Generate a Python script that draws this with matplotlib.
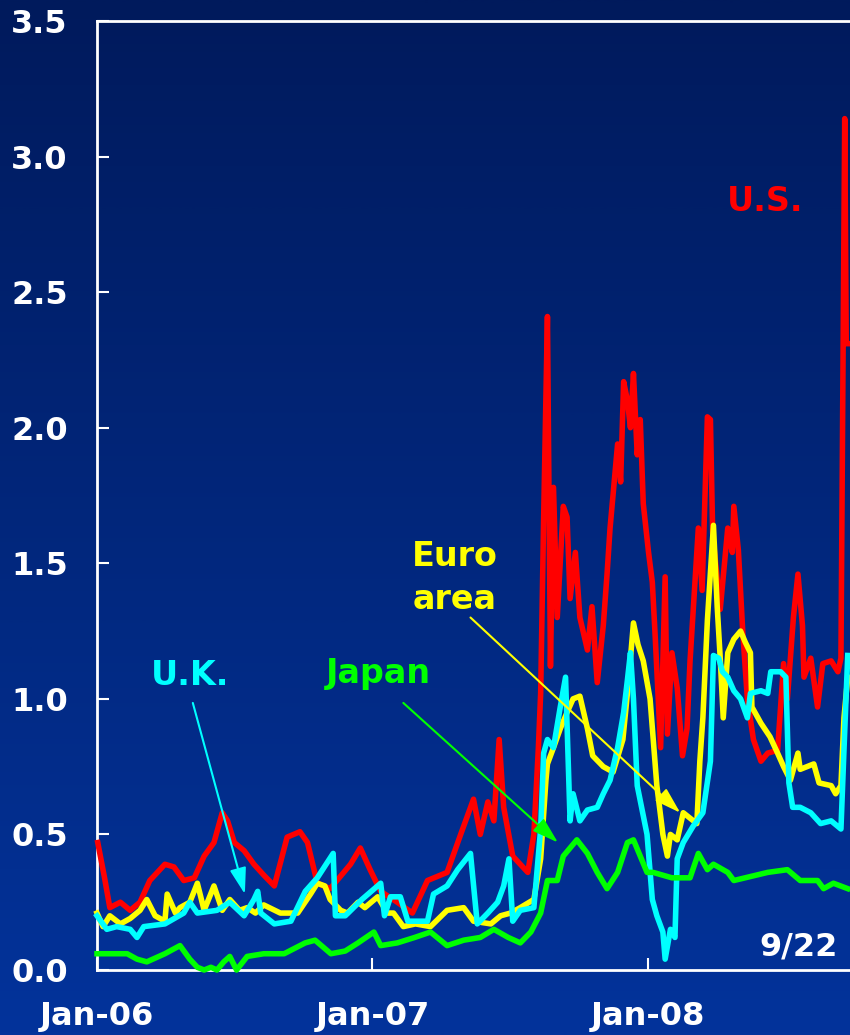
import numpy as np
import pandas as pd
import matplotlib
matplotlib.use("Agg")
import matplotlib.pyplot as plt
import matplotlib.dates as mdates
from matplotlib.colors import LinearSegmentedColormap

# ── 3-month Libor-OIS spreads (percentage points) ────────────────────────────
us_dates = [
    "2006-01-02", "2006-01-11", "2006-01-18", "2006-02-01", "2006-02-14", "2006-02-27",
    "2006-03-12", "2006-04-01", "2006-04-13", "2006-04-26", "2006-05-10", "2006-05-23",
    "2006-06-05", "2006-06-16", "2006-06-23", "2006-07-02", "2006-07-15", "2006-07-28",
    "2006-08-10", "2006-08-24", "2006-09-10", "2006-09-27", "2006-10-07", "2006-10-20",
    "2006-11-06", "2006-12-03", "2006-12-16", "2006-12-29", "2007-01-12", "2007-02-03",
    "2007-02-23", "2007-03-05", "2007-03-15", "2007-04-10", "2007-04-28", "2007-05-15",
    "2007-05-24", "2007-06-03", "2007-06-11", "2007-06-18", "2007-06-24", "2007-07-06",
    "2007-07-26", "2007-08-03", "2007-08-09", "2007-08-12", "2007-08-16", "2007-08-21",
    "2007-08-25", "2007-08-29", "2007-09-03", "2007-09-11", "2007-09-16", "2007-09-20",
    "2007-09-27", "2007-10-03", "2007-10-13", "2007-10-19", "2007-10-26", "2007-11-03",
    "2007-11-08", "2007-11-12", "2007-11-22", "2007-11-26", "2007-11-30", "2007-12-05",
    "2007-12-09", "2007-12-13", "2007-12-18", "2007-12-22", "2007-12-26", "2008-01-02",
    "2008-01-07", "2008-01-11", "2008-01-18", "2008-01-24", "2008-01-27", "2008-02-02",
    "2008-02-09", "2008-02-16", "2008-02-22", "2008-02-26", "2008-03-08", "2008-03-13",
    "2008-03-20", "2008-03-24", "2008-03-27", "2008-04-06", "2008-04-16", "2008-04-22",
    "2008-04-24", "2008-04-30", "2008-05-06", "2008-05-12", "2008-05-20", "2008-05-30",
    "2008-06-08", "2008-06-21", "2008-06-29", "2008-07-04", "2008-07-12", "2008-07-18",
    "2008-07-24", "2008-07-26", "2008-08-04", "2008-08-13", "2008-08-20", "2008-08-31",
    "2008-09-09", "2008-09-13", "2008-09-18", "2008-09-20", "2008-09-22",
]
us_vals = [
    0.47, 0.34, 0.23, 0.25, 0.22, 0.25,
    0.33, 0.39, 0.38, 0.33, 0.34, 0.42,
    0.47, 0.58, 0.55, 0.47, 0.44, 0.39,
    0.35, 0.31, 0.49, 0.51, 0.47, 0.32,
    0.30, 0.39, 0.45, 0.37, 0.29, 0.25,
    0.21, 0.27, 0.33, 0.36, 0.50, 0.63,
    0.50, 0.62, 0.55, 0.85, 0.60, 0.42,
    0.36, 0.50, 0.82, 1.02, 1.67, 2.41,
    1.12, 1.78, 1.30, 1.71, 1.67, 1.37,
    1.54, 1.30, 1.18, 1.34, 1.06, 1.27,
    1.46, 1.63, 1.94, 1.80, 2.17, 2.10,
    2.00, 2.20, 1.90, 2.03, 1.72, 1.54,
    1.43, 1.22, 0.82, 1.45, 0.87, 1.17,
    1.04, 0.79, 0.89, 1.14, 1.63, 1.40,
    2.04, 2.03, 1.61, 1.33, 1.63, 1.54,
    1.71, 1.55, 1.24, 1.00, 0.85, 0.77,
    0.80, 0.81, 1.13, 1.00, 1.30, 1.46,
    1.27, 1.08, 1.15, 0.97, 1.13, 1.14,
    1.10, 1.15, 3.14, 2.31, 2.31,
]

euro_dates = [
    "2006-01-01", "2006-01-09", "2006-01-18", "2006-02-01", "2006-02-14", "2006-02-27",
    "2006-03-08", "2006-03-19", "2006-04-01", "2006-04-04", "2006-04-15", "2006-04-21",
    "2006-05-04", "2006-05-14", "2006-05-23", "2006-06-05", "2006-06-16", "2006-06-26",
    "2006-07-09", "2006-07-19", "2006-07-30", "2006-08-10", "2006-09-01", "2006-09-24",
    "2006-10-11", "2006-10-20", "2006-10-30", "2006-11-06", "2006-11-20", "2006-11-29",
    "2006-12-13", "2006-12-22", "2007-01-08", "2007-01-21", "2007-01-29", "2007-02-11",
    "2007-02-27", "2007-03-19", "2007-04-10", "2007-05-02", "2007-05-15", "2007-06-07",
    "2007-06-20", "2007-07-03", "2007-07-16", "2007-08-03", "2007-08-12", "2007-08-19",
    "2007-08-21", "2007-08-29", "2007-09-07", "2007-09-16", "2007-09-24", "2007-10-03",
    "2007-10-13", "2007-10-20", "2007-11-03", "2007-11-16", "2007-11-29", "2007-12-06",
    "2007-12-13", "2007-12-19", "2007-12-26", "2008-01-04", "2008-01-13", "2008-01-21",
    "2008-01-27", "2008-01-31", "2008-02-09", "2008-02-17", "2008-02-26", "2008-03-06",
    "2008-03-10", "2008-03-14", "2008-03-20", "2008-03-28", "2008-04-02", "2008-04-06",
    "2008-04-10", "2008-04-16", "2008-04-24", "2008-05-03", "2008-05-09", "2008-05-16",
    "2008-05-18", "2008-05-30", "2008-06-11", "2008-06-21", "2008-06-29", "2008-07-08",
    "2008-07-18", "2008-07-21", "2008-08-08", "2008-08-15", "2008-08-31", "2008-09-06",
    "2008-09-13", "2008-09-17", "2008-09-22",
]
euro_vals = [
    0.21, 0.16, 0.20, 0.17, 0.19, 0.22,
    0.26, 0.20, 0.18, 0.28, 0.21, 0.23,
    0.25, 0.32, 0.22, 0.31, 0.22, 0.26,
    0.22, 0.23, 0.21, 0.24, 0.21, 0.21,
    0.28, 0.32, 0.31, 0.26, 0.22, 0.21,
    0.25, 0.23, 0.27, 0.21, 0.21, 0.16,
    0.17, 0.16, 0.22, 0.23, 0.18, 0.17,
    0.20, 0.21, 0.23, 0.26, 0.41, 0.70,
    0.76, 0.82, 0.89, 0.95, 1.00, 1.01,
    0.89, 0.79, 0.75, 0.73, 0.85, 1.05,
    1.28, 1.20, 1.14, 1.00, 0.68, 0.50,
    0.42, 0.50, 0.48, 0.58, 0.56, 0.54,
    0.77, 0.93, 1.29, 1.64, 1.34, 1.15,
    0.93, 1.17, 1.22, 1.25, 1.21, 1.17,
    0.97, 0.91, 0.86, 0.80, 0.75, 0.70,
    0.80, 0.74, 0.76, 0.69, 0.68, 0.65,
    0.68, 0.93, 1.08,
]

uk_dates = [
    "2006-01-01", "2006-01-14", "2006-01-27", "2006-02-14", "2006-02-23", "2006-03-04",
    "2006-04-01", "2006-04-26", "2006-05-04", "2006-05-14", "2006-06-09", "2006-06-26",
    "2006-07-15", "2006-07-28", "2006-08-02", "2006-08-06", "2006-08-24", "2006-09-15",
    "2006-10-04", "2006-10-20", "2006-11-10", "2006-11-13", "2006-11-26", "2006-12-18",
    "2007-01-12", "2007-01-17", "2007-01-25", "2007-02-07", "2007-02-17", "2007-03-15",
    "2007-03-23", "2007-04-10", "2007-04-24", "2007-05-11", "2007-05-20", "2007-06-03",
    "2007-06-16", "2007-06-24", "2007-07-01", "2007-07-06", "2007-07-16", "2007-08-03",
    "2007-08-12", "2007-08-16", "2007-08-21", "2007-08-29", "2007-09-07", "2007-09-14",
    "2007-09-20", "2007-09-24", "2007-10-03", "2007-10-13", "2007-10-26", "2007-11-03",
    "2007-11-12", "2007-11-22", "2007-11-30", "2007-12-05", "2007-12-09", "2007-12-13",
    "2007-12-18", "2007-12-31", "2008-01-07", "2008-01-13", "2008-01-21", "2008-01-24",
    "2008-01-31", "2008-02-06", "2008-02-09", "2008-02-17", "2008-03-01", "2008-03-14",
    "2008-03-24", "2008-03-28", "2008-04-04", "2008-04-09", "2008-04-16", "2008-04-24",
    "2008-05-03", "2008-05-12", "2008-05-16", "2008-05-30", "2008-06-08", "2008-06-12",
    "2008-06-25", "2008-07-02", "2008-07-06", "2008-07-11", "2008-07-21", "2008-08-04",
    "2008-08-17", "2008-08-31", "2008-09-13", "2008-09-17", "2008-09-22",
]
uk_vals = [
    0.20, 0.15, 0.16, 0.15, 0.12, 0.16,
    0.17, 0.21, 0.25, 0.21, 0.22, 0.25,
    0.20, 0.26, 0.29, 0.21, 0.17, 0.18,
    0.29, 0.34, 0.43, 0.20, 0.20, 0.26,
    0.32, 0.20, 0.27, 0.27, 0.18, 0.18,
    0.28, 0.31, 0.37, 0.43, 0.17, 0.21,
    0.25, 0.31, 0.41, 0.18, 0.22, 0.23,
    0.52, 0.80, 0.85, 0.82, 0.97, 1.08,
    0.55, 0.65, 0.55, 0.59, 0.60, 0.65,
    0.70, 0.82, 0.95, 1.07, 1.17, 1.00,
    0.68, 0.50, 0.26, 0.20, 0.14, 0.04,
    0.15, 0.12, 0.41, 0.47, 0.53, 0.58,
    0.77, 1.16, 1.15, 1.10, 1.08, 1.03,
    1.00, 0.93, 1.02, 1.03, 1.02, 1.10,
    1.10, 1.08, 0.69, 0.60, 0.60, 0.58,
    0.54, 0.55, 0.52, 0.81, 1.16,
]

japan_dates = [
    "2006-01-01", "2006-02-10", "2006-02-23", "2006-03-08", "2006-04-01", "2006-04-21",
    "2006-05-04", "2006-05-14", "2006-05-23", "2006-06-01", "2006-06-09", "2006-06-18",
    "2006-06-26", "2006-07-05", "2006-07-19", "2006-08-10", "2006-09-06", "2006-10-04",
    "2006-10-17", "2006-11-07", "2006-11-26", "2006-12-13", "2007-01-03", "2007-01-12",
    "2007-02-03", "2007-02-26", "2007-03-19", "2007-04-10", "2007-05-02", "2007-05-24",
    "2007-06-11", "2007-06-30", "2007-07-16", "2007-07-30", "2007-08-12", "2007-08-21",
    "2007-09-03", "2007-09-11", "2007-09-29", "2007-10-13", "2007-10-26", "2007-11-08",
    "2007-11-22", "2007-12-05", "2007-12-13", "2007-12-22", "2007-12-31", "2008-01-08",
    "2008-02-02", "2008-02-26", "2008-03-08", "2008-03-20", "2008-03-28", "2008-04-16",
    "2008-04-24", "2008-06-08", "2008-07-04", "2008-07-21", "2008-08-13", "2008-08-21",
    "2008-09-03", "2008-09-22",
]
japan_vals = [
    0.06, 0.06, 0.04, 0.03, 0.06, 0.09,
    0.04, 0.01, 0.00, 0.01, 0.00, 0.03,
    0.05, 0.00, 0.05, 0.06, 0.06, 0.10,
    0.11, 0.06, 0.07, 0.10, 0.14, 0.09,
    0.10, 0.12, 0.14, 0.09, 0.11, 0.12,
    0.15, 0.12, 0.10, 0.14, 0.21, 0.33,
    0.33, 0.42, 0.48, 0.43, 0.36, 0.30,
    0.36, 0.47, 0.48, 0.42, 0.36, 0.36,
    0.34, 0.34, 0.43, 0.37, 0.39, 0.36,
    0.33, 0.36, 0.37, 0.33, 0.33, 0.30,
    0.32, 0.30,
]

Y_TICKS = [0.0, 0.5, 1.0, 1.5, 2.0, 2.5, 3.0, 3.5]
X_TICKS = ["2006-01-01", "2007-01-01", "2008-01-01"]
X_START, X_END = "2006-01-01", "2008-09-25"

BG_TOP = "#001a5c"
BG_BOTTOM = "#03339b"
FONT = "DejaVu Sans"

fig = plt.figure(figsize=(8.5, 10.35), dpi=100)

# vertical navy-to-blue gradient behind everything
bg = fig.add_axes([0, 0, 1, 1], zorder=0)
grad = np.linspace(0, 1, 512).reshape(-1, 1)
bg.imshow(grad, aspect="auto", extent=[0, 1, 0, 1], origin="upper",
          cmap=LinearSegmentedColormap.from_list("bg", [BG_TOP, BG_BOTTOM]))
bg.axis("off")

ax = fig.add_axes([97 / 850, 65 / 1035, 753 / 850, 949 / 1035], zorder=1)
ax.patch.set_alpha(0)

series = [
    (us_dates, us_vals, "#ff0000"),
    (euro_dates, euro_vals, "#ffff00"),
    (uk_dates, uk_vals, "#00ffff"),
    (japan_dates, japan_vals, "#00ff00"),
]
for dates, vals, color in series:
    ax.plot(pd.to_datetime(dates), vals, color=color, lw=4,
            solid_joinstyle="round", zorder=3, clip_on=False)

ax.set_xlim(pd.Timestamp(X_START), pd.Timestamp(X_END))
ax.set_ylim(0, 3.5)
ax.set_yticks(Y_TICKS)
ax.set_yticklabels([f"{v:.1f}" for v in Y_TICKS])
ax.set_xticks(pd.to_datetime(X_TICKS))
ax.xaxis.set_major_formatter(mdates.DateFormatter("%b-%y"))

for side in ["left", "top", "bottom"]:
    ax.spines[side].set_color("white")
    ax.spines[side].set_linewidth(2)
ax.spines["right"].set_visible(False)

ax.tick_params(axis="both", direction="in", length=8.5, width=1.5,
               color="white", labelcolor="white", labelsize=23)
ax.tick_params(axis="y", pad=21, left=True)
ax.tick_params(axis="x", pad=22)
for lbl in ax.get_xticklabels() + ax.get_yticklabels():
    lbl.set_fontweight("bold")
    lbl.set_family(FONT)

# series labels
label_kw = dict(fontsize=24, fontweight="bold", family=FONT, ha="center",
                va="baseline", zorder=5)
ax.text(pd.Timestamp("2008-06-04"), 2.80, "U.S.", color="#ff0000", **label_kw)
ax.text(pd.Timestamp("2007-04-20"), 1.49, "Euro", color="#ffff00", **label_kw)
ax.text(pd.Timestamp("2007-04-20"), 1.33, "area", color="#ffff00", **label_kw)
ax.text(pd.Timestamp("2006-05-04"), 1.05, "U.K.", color="#00ffff", **label_kw)
ax.text(pd.Timestamp("2007-01-09"), 1.06, "Japan", color="#00ff00", **label_kw)
ax.text(pd.Timestamp("2008-09-09"), 0.055, "9/22", color="white", fontsize=23,
        fontweight="bold", family=FONT, ha="right", va="baseline", zorder=5)

# pointer arrows from labels to their lines
arrows = [
    ("2006-05-08", 0.985, "2006-07-16", 0.28, "#00ffff"),
    ("2007-02-11", 0.985, "2007-09-04", 0.47, "#00ff00"),
    ("2007-05-11", 1.30, "2008-02-13", 0.58, "#ffff00"),
]
for x0, y0, x1, y1, color in arrows:
    ax.annotate("", xy=(pd.Timestamp(x1), y1), xytext=(pd.Timestamp(x0), y0),
                arrowprops=dict(arrowstyle="-|>,head_length=0.8,head_width=0.25",
                                color=color, lw=1.5, mutation_scale=20,
                                shrinkA=0, shrinkB=0),
                zorder=6)

fig.savefig("out.png", dpi=100)
plt.close(fig)
